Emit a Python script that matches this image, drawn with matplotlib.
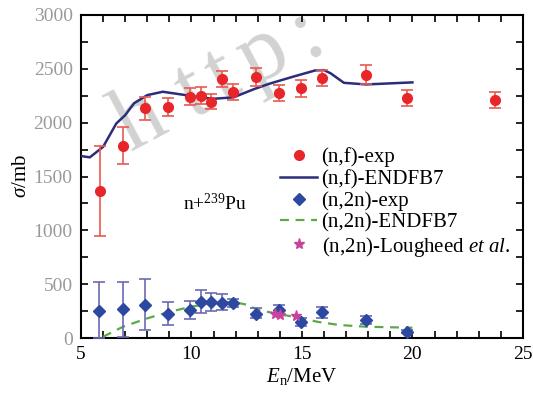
import math
import matplotlib
matplotlib.use("Agg")
import matplotlib.pyplot as plt
from matplotlib.ticker import MultipleLocator

plt.rcParams['font.family'] = ['Liberation Serif', 'DejaVu Serif']
plt.rcParams['mathtext.fontset'] = 'custom'
plt.rcParams['mathtext.rm'] = 'Liberation Serif'
plt.rcParams['mathtext.it'] = 'Liberation Serif:italic'

# (n,f) experimental
nf_E = [5.85, 6.9, 7.91, 8.95, 9.95, 10.43, 10.9, 11.38, 11.88, 12.93, 13.96, 14.94, 15.9, 17.88, 19.75, 23.75]
nf_sig = [1368, 1785, 2133, 2148, 2241, 2247, 2194, 2402, 2287, 2427, 2272, 2318, 2417, 2442, 2225, 2210]
nf_up = [1785, 1959, 2240, 2226, 2318, 2328, 2265, 2482, 2358, 2504, 2349, 2395, 2488, 2532, 2303, 2281]
nf_lo = [947, 1616, 2024, 2064, 2163, 2173, 2123, 2328, 2213, 2343, 2203, 2240, 2343, 2358, 2154, 2138]

# (n,f) ENDF/B-VII
nfe_E = [5.0, 5.4, 6.0, 6.6, 7.0, 7.4, 8.0, 8.7, 9.5, 10.4, 11.0, 11.9, 12.8, 13.5, 14.6, 15.6, 16.0, 16.3, 16.9, 17.9, 20.0]
nfe_sig = [1690, 1678, 1776, 1993, 2070, 2180, 2256, 2287, 2263, 2235, 2222, 2235, 2309, 2360, 2427, 2485, 2488, 2458, 2370, 2355, 2374]

# (n,2n) experimental
n2_E = [5.83, 6.91, 7.91, 8.95, 9.95, 10.43, 10.9, 11.38, 11.88, 12.93, 13.96, 14.94, 15.9, 17.88, 19.75]
n2_sig = [254, 266, 306, 223, 260, 337, 331, 328, 322, 223, 260, 149, 238, 167, 59]
n2_up = [517, 517, 545, 331, 343, 446, 415, 406, 362, 276, 306, 189, 291, 204, 75]
n2_lo = [0, 12, 74, 118, 176, 235, 254, 260, 285, 183, 214, 111, 189, 127, 45]

# (n,2n) ENDF/B-VII
n2e_E = [6.0, 6.9, 8.0, 9.0, 10.0, 11.0, 11.9, 12.5, 13.0, 14.0, 14.8, 15.7, 16.7, 17.9, 19.7, 20.0]
n2e_sig = [12, 105, 183, 244, 291, 328, 335, 310, 262, 220, 192, 151, 121, 105, 97, 96]

# (n,2n) Lougheed et al.
lo_E = [13.8, 14.0, 14.75]
lo_sig = [222, 218, 207]

# watermark letters
wm_chars = ['h', 't', 't', 'p', ':']

W, H = 533, 394
fig = plt.figure(figsize=(5.33, 3.94), dpi=100)
ax = fig.add_axes([0.152, 0.142, 0.829, 0.820])
ax.set_zorder(2)
ax.patch.set_visible(False)

# watermark (behind the axes), letters spaced along a rotated baseline
ang = 28
x0, y0 = 130, 152
offs = [0, 70, 104, 140, 200]
for ch, d in zip(wm_chars, offs):
    px = x0 + d * math.cos(math.radians(ang))
    py = y0 - d * math.sin(math.radians(ang))
    fig.text(px / W, 1 - py / H, ch, fontsize=66, color='#d2d2d2', rotation=ang,
             rotation_mode='anchor', ha='left', va='baseline', zorder=0,
             family='Liberation Serif')

red = '#e8262a'
blue = '#2d48a0'
h1 = ax.errorbar(nf_E, nf_sig,
                 yerr=[[s - l for s, l in zip(nf_sig, nf_lo)], [u - s for s, u in zip(nf_sig, nf_up)]],
                 fmt='o', color=red, ecolor='#e85a50', ms=7, elinewidth=1.2, capsize=4, capthick=1.2,
                 zorder=4)
h2, = ax.plot(nfe_E, nfe_sig, '-', color='#2b2d7c', lw=1.8, zorder=3)
h3 = ax.errorbar(n2_E, n2_sig,
                 yerr=[[s - l for s, l in zip(n2_sig, n2_lo)], [u - s for s, u in zip(n2_sig, n2_up)]],
                 fmt='D', color=blue, ecolor='#6a6ab4', ms=6, elinewidth=1.2, capsize=4, capthick=1.2,
                 zorder=4)
h4, = ax.plot(n2e_E, n2e_sig, '--', color='#5aaa48', lw=1.6, dashes=(4, 3), zorder=3)
h5, = ax.plot(lo_E, lo_sig, '*', color='#c8449c', ms=8, ls='none', zorder=5)

ax.set_xlim(5, 25)
ax.set_ylim(0, 3000)
ax.xaxis.set_major_locator(MultipleLocator(5))
ax.xaxis.set_minor_locator(MultipleLocator(1))
ax.yaxis.set_major_locator(MultipleLocator(500))
ax.yaxis.set_minor_locator(MultipleLocator(250))
ax.tick_params(which='both', direction='in', top=True, right=True, width=1.2)
ax.tick_params(which='major', length=5)
ax.tick_params(which='minor', length=5)
ax.tick_params(axis='x', labelsize=14, labelcolor='black', pad=6)
ax.tick_params(axis='y', labelsize=14, labelcolor='#9a9a9a', pad=6)
for s in ax.spines.values():
    s.set_linewidth(1.5)

ax.set_xlabel('$E_{\\rm n}$/MeV', fontsize=15, labelpad=2)
ax.set_ylabel('$\\sigma$/mb', fontsize=15, labelpad=2)

ax.text(9.6, 1250, 'n+$^{239}$Pu', fontsize=14, ha='left', va='center')

ax.legend([h1[0], h2, h3[0], h4, h5],
          ['(n,f)-exp', '(n,f)-ENDFB7', '(n,2n)-exp', '(n,2n)-ENDFB7',
           '(n,2n)-Lougheed $\\it{et\\ al}$.'],
          loc='upper left', bbox_to_anchor=(0.45, 0.59), frameon=False, fontsize=15,
          labelspacing=0.1, handlelength=1.8, handletextpad=0.2, borderpad=0, borderaxespad=0)

fig.savefig('out.png', dpi=100)
